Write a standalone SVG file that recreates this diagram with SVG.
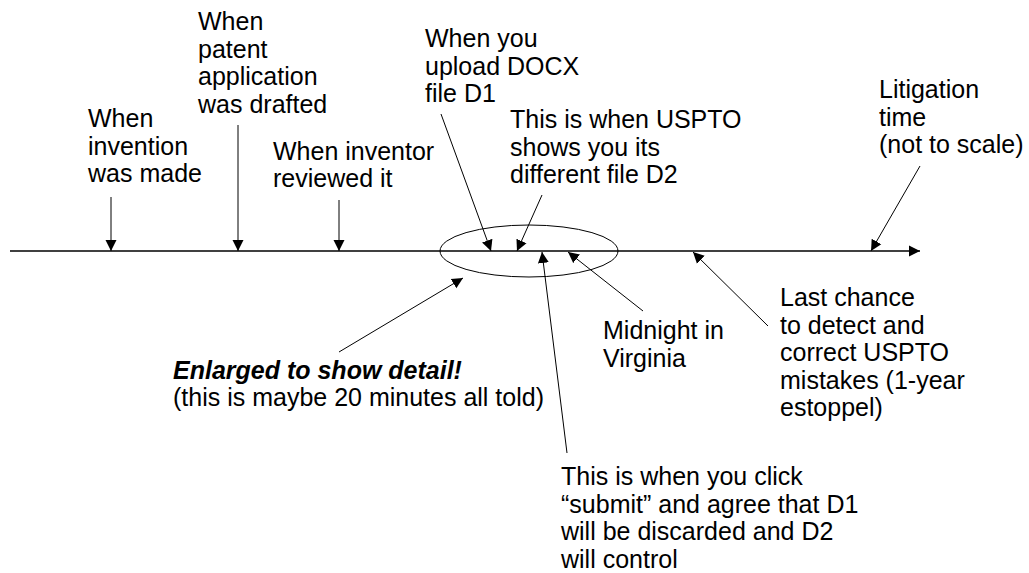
<svg xmlns="http://www.w3.org/2000/svg" width="1029" height="573" viewBox="0 0 1029 573">
<style>
text{font-family:"Liberation Sans",Arial,sans-serif;font-size:25px;fill:#000}
.b{font-weight:bold;font-style:italic}
.ln{stroke:#000;stroke-width:1;fill:none}
</style>
<defs>
<marker id="ah" markerUnits="userSpaceOnUse" markerWidth="12" markerHeight="12" viewBox="0 0 12 12" refX="11" refY="6" orient="auto">
<path d="M0,0.5 L11,6 L0,11.5 z" fill="#000"/>
</marker>
</defs>
<rect width="1029" height="573" fill="#fff"/>
<g id="timeline">
<line x1="10" y1="251" x2="920" y2="251" stroke="#000" stroke-width="1.4" marker-end="url(#ah)"/>
<ellipse cx="529" cy="251" rx="89" ry="26" class="ln" stroke-width="1.3"/>
</g>
<g id="connectors">
<line class="ln" x1="111" y1="197" x2="111" y2="251" marker-end="url(#ah)"/>
<line class="ln" x1="238" y1="125" x2="238" y2="251" marker-end="url(#ah)"/>
<line class="ln" x1="339" y1="200" x2="339" y2="251" marker-end="url(#ah)"/>
<line class="ln" x1="441" y1="114" x2="491" y2="251" marker-end="url(#ah)"/>
<line class="ln" x1="542" y1="195" x2="517" y2="251" marker-end="url(#ah)"/>
<line class="ln" x1="567" y1="453" x2="542" y2="252" marker-end="url(#ah)"/>
<line class="ln" x1="643" y1="311" x2="568" y2="252" marker-end="url(#ah)"/>
<line class="ln" x1="768" y1="326" x2="693" y2="252" marker-end="url(#ah)"/>
<line class="ln" x1="920" y1="166" x2="871" y2="251" marker-end="url(#ah)"/>
<line class="ln" x1="339" y1="352" x2="463" y2="278" marker-end="url(#ah)"/>
</g>
<g id="n-invention">
<text x="88" y="127">When</text>
<text x="88" y="154.6">invention</text>
<text x="88" y="182.2">was made</text>
</g>
<g id="n-drafted">
<text x="198" y="30">When</text>
<text x="198" y="57.6">patent</text>
<text x="198" y="85.2">application</text>
<text x="198" y="112.8">was drafted</text>
</g>
<g id="n-reviewed">
<text x="273" y="159.5">When inventor</text>
<text x="273" y="187.1">reviewed it</text>
</g>
<g id="n-upload">
<text x="425" y="47">When you</text>
<text x="425" y="74.6">upload DOCX</text>
<text x="425" y="102.2">file D1</text>
</g>
<g id="n-shows">
<text x="510" y="128">This is when USPTO</text>
<text x="510" y="155.6">shows you its</text>
<text x="510" y="183.2">different file D2</text>
</g>
<g id="n-litigation">
<text x="879" y="98">Litigation</text>
<text x="879" y="125.6">time</text>
<text x="879" y="153.2">(not to scale)</text>
</g>
<g id="n-midnight">
<text x="603" y="339">Midnight in</text>
<text x="603" y="366.6">Virginia</text>
</g>
<g id="n-lastchance">
<text x="780" y="306">Last chance</text>
<text x="780" y="333.6">to detect and</text>
<text x="780" y="361.2">correct USPTO</text>
<text x="780" y="388.8">mistakes (1-year</text>
<text x="780" y="416.4">estoppel)</text>
</g>
<g id="n-enlarged">
<text x="173" y="379" class="b">Enlarged to show detail!</text>
<text x="173" y="406">(this is maybe 20 minutes all told)</text>
</g>
<g id="n-submit">
<text x="561" y="485">This is when you click</text>
<text x="561" y="512.6">“submit” and agree that D1</text>
<text x="561" y="540.2">will be discarded and D2</text>
<text x="561" y="567.8">will control</text>
</g>
</svg>
